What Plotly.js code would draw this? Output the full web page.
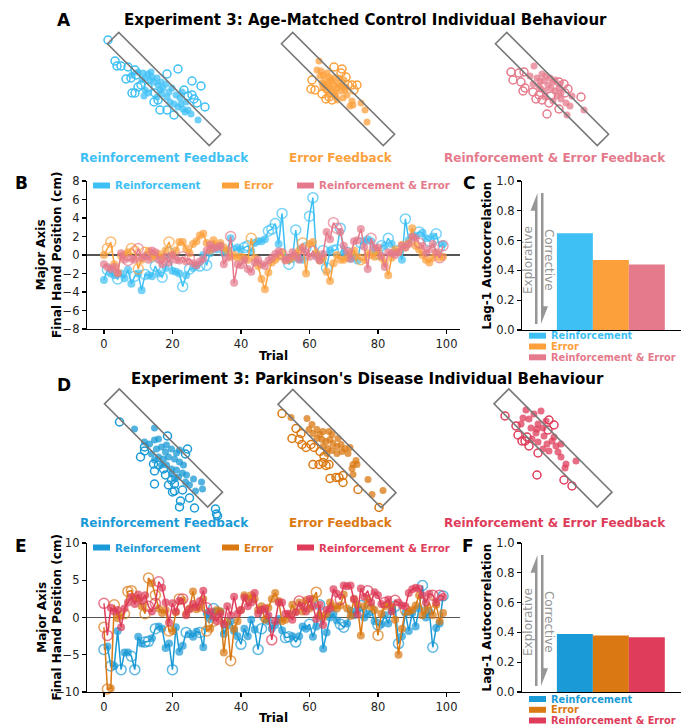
<!DOCTYPE html>
<html><head><meta charset="utf-8">
<script src="https://cdn.plot.ly/plotly-3.0.1.min.js"></script>
<style>html,body{margin:0;padding:0;background:#fff;} #chart{width:681px;height:725px;}</style>
</head><body><div id="chart"></div>
<script>
// ---------------- DATA ----------------
const trials = Array.from({length: 100}, (_, i) => i);
const seriesNames = ['Reinforcement', 'Error', 'Reinforcement & Error'];
const feedbackLabels = ['Reinforcement Feedback', 'Error Feedback', 'Reinforcement & Error Feedback'];

// Age-matched control: major-axis final hand position (cm)
const ctrlReinf = [-2.7,-1.6,-2.0,-2.2,-2.6,-2.0,-2.5,-1.6,-3.1,-2.3,
 -2.0,-3.8,-2.1,-2.2,-2.3,-1.2,-2.0,-2.4,-1.4,0.3,
 -1.7,-1.8,-2.0,-3.4,-2.2,-1.5,-1.4,-1.2,-1.2,0.0,
 -1.1,0.2,0.8,0.6,1.0,0.2,0.5,1.8,0.4,0.8,
 0.6,0.8,1.0,0.4,1.3,1.5,1.5,1.7,2.6,2.8,
 3.4,1.2,4.5,-0.3,-1.0,-0.4,2.7,-0.4,-0.5,0.8,
 4.2,6.2,0.0,-0.5,0.5,-1.4,0.5,0.5,0.6,2.9,
 0.2,0.3,-0.4,-0.2,-0.6,1.3,1.5,1.7,1.5,0.6,
 0.1,1.0,1.0,1.8,1.2,0.3,0.5,-0.5,3.9,1.6,
 2.0,2.1,2.5,2.4,1.8,1.5,2.0,2.3,0.9,1.2];
const ctrlError = [0.0,0.7,1.4,-1.0,-1.9,-0.1,0.0,0.3,0.7,0.4,
 -1.5,-0.5,0.3,0.4,-0.3,-0.1,0.1,-0.3,0.5,1.4,
 0.0,0.5,1.4,1.4,0.7,0.2,1.2,1.5,2.1,2.3,
 1.3,0.5,1.6,1.0,1.3,0.8,0.5,-0.2,0.0,-0.3,
 -0.2,-0.3,-0.5,1.8,-0.3,-1.2,-2.6,-3.7,-1.9,-0.8,
 -0.5,-0.2,0.3,-0.5,-0.5,-0.3,0.1,0.5,1.3,-2.0,
 1.2,1.4,0.2,-0.6,-0.3,-1.8,-2.8,-0.9,0.0,-0.5,
 -0.5,-0.3,0.2,0.5,-0.2,-0.5,-0.5,0.2,0.0,-0.2,
 0.5,-0.3,-0.8,-2.2,-0.3,0.6,0.3,1.1,0.8,1.3,
 2.9,1.0,0.6,0.0,-0.5,-0.8,-0.3,0.2,-0.3,-0.2];
const ctrlBoth = [-1.0,-1.3,-1.5,-1.3,-2.0,0.2,-0.5,-0.6,-0.4,-0.5,
 0.7,-0.3,-0.1,-0.5,0.5,0.3,-0.5,-1.0,-0.2,-0.8,
 0.0,-0.5,-0.6,-0.2,-0.7,-0.4,-0.9,-1.1,-0.7,-0.4,
 0.5,1.1,0.7,0.8,1.0,-1.0,-0.3,2.0,-3.0,-1.0,
 -1.1,-0.5,-1.5,-1.8,-0.8,-0.5,-1.0,-1.2,-0.6,-0.3,
 0.1,0.4,0.1,-0.6,-0.3,0.3,-0.1,-0.5,0.8,0.3,
 -0.2,0.4,-0.2,-0.6,0.1,2.5,1.7,3.5,2.9,2.5,
 1.0,0.4,-0.4,1.5,1.6,2.8,0.9,-1.5,1.8,0.8,
 0.8,-0.1,-1.3,0.3,0.2,0.0,0.3,1.0,0.8,1.2,
 2.0,1.8,1.3,1.0,0.2,0.6,1.2,0.3,-0.3,1.0];
// trials drawn as open circles
const ctrlReinfOpen = [1,4,9,12,15,17,19,23,25,28,30,38,41,42,48,49,50,52,54,56,59,60,61,64,65,67,68,69,71,75,80,81,83,86,88,92,95,97,98];
const ctrlErrorOpen = [1,2,8,9,10,12,19,43,58,75];
const ctrlBothOpen = [7,10,23,25,37,52,61,67,68,78,92,98,99];

// Parkinson's disease: major-axis final hand position (cm)
const pdReinf = [-4.3,-3.9,-6.5,-6.5,-1.8,-7.0,-4.7,-4.7,-5.2,-7.0,
 -2.6,-3.5,-3.3,-3.2,-2.8,-1.5,-1.2,-1.5,-4.1,-3.5,
 -7.0,-1.3,-4.6,-3.8,-2.0,-2.2,-2.6,-1.9,-2.0,-4.0,
 0.6,-0.2,1.2,0.8,0.8,-2.2,-1.1,-0.5,-1.8,-2.5,
 -3.6,-1.5,-2.5,-0.3,-1.6,-4.3,-1.5,0.1,-0.5,-1.5,
 -1.0,-0.2,-1.7,-2.7,-2.6,-2.5,-3.3,-2.5,-1.2,-1.5,
 -0.9,-2.6,-1.2,1.7,-4.2,-2.0,0.0,0.5,-0.4,-0.9,
 -1.3,-0.8,0.9,0.3,1.0,1.6,0.0,0.5,1.0,-0.5,
 -1.0,-0.9,0.3,-0.8,0.9,1.5,-3.5,-2.5,0.6,-1.8,
 0.6,-1.2,1.2,4.3,0.0,0.8,-4.0,-1.4,-0.8,2.9];
const pdError = [-1.3,-9.6,-9.5,1.7,-0.1,0.3,0.5,3.5,3.6,2.5,
 2.6,1.5,0.5,5.3,4.6,3.0,1.2,0.6,1.0,-1.8,
 -1.8,0.7,2.5,2.3,0.5,1.2,3.5,1.1,1.3,2.5,
 -1.8,-1.5,-0.5,1.0,0.8,-4.7,-0.6,-5.8,-1.5,-0.5,
 1.0,3.0,2.5,3.0,2.5,1.0,1.5,-0.3,1.3,2.5,
 3.3,2.2,-0.5,-0.3,0.3,1.7,0.8,2.0,0.8,2.3,
 1.2,2.5,3.4,0.3,0.0,0.5,2.0,1.5,1.2,1.6,
 3.1,1.2,0.2,2.5,1.7,-2.4,1.5,2.5,1.4,1.0,
 -2.4,0.5,1.5,1.8,1.5,-0.3,-5.0,-1.5,1.0,0.8,
 1.0,1.6,3.0,0.3,1.0,2.0,0.3,1.7,-0.5,0.6];
const pdBoth = [1.9,-2.4,1.3,0.8,1.0,-1.3,1.2,2.0,2.8,1.8,
 3.1,2.2,3.0,1.5,0.8,1.9,4.8,4.0,2.0,-0.7,
 1.9,0.8,2.2,2.5,0.3,1.1,1.8,1.4,2.2,3.6,
 1.3,0.8,0.1,-0.5,0.5,-0.9,1.5,0.3,2.8,0.5,
 1.0,2.7,1.5,2.0,3.3,0.5,1.0,1.2,0.3,-3.0,
 -0.5,2.0,2.0,0.5,0.5,-0.3,0.7,2.2,1.5,0.8,
 2.5,1.5,-0.2,1.7,-1.0,1.0,1.2,3.8,3.2,2.4,
 4.3,4.2,4.3,2.5,0.4,3.9,2.8,3.6,2.0,3.4,
 3.0,1.8,2.0,2.4,0.8,2.3,2.0,1.6,1.5,3.3,
 3.8,4.0,3.9,3.0,2.0,3.2,3.0,2.0,3.0,2.8];
const pdReinfOpen = [0,2,5,8,9,12,13,15,20,24,28,32,40,45,46,47,53,54,56,60,63,69,70,75,78,80,85,86,93,96,99];
const pdErrorOpen = [0,1,3,6,7,8,12,13,15,19,22,30,32,37,62,80,88,95];
const pdBothOpen = [0,1,13,15,16,23,30,49,57,69,77,82,85,96,98];

// Lag-1 autocorrelation
const ctrlLag1 = [0.65, 0.47, 0.44];
const pdLag1 = [0.39, 0.38, 0.367];

// Endpoint scatter (cm, relative to target centre). Open = outside target, filled = inside
const ctrlReinfOpenX = [-5.6,-4.9,-4.7,-4.3,-3.6,-2.9,-3.8,-3.3,-2.8,-2.6,-3.2,-2.9,-2.3,-1.0,-0.6,-0.4,0.3,1.0,1.4,0.3,2.8,3.7,2.0,2.4,2.8,3.3,4.1,3.0,-0.9,-1.6];
const ctrlReinfOpenY = [4.9,2.8,2.3,2.3,2.2,1.9,1.0,1.1,1.4,0.2,-0.4,-0.4,0.4,-1.3,-1.1,-2.1,-2.1,-2.6,2.0,1.5,0.8,0.3,-0.1,-0.7,-0.6,-1.4,-1.8,-1.0,-0.4,0.2];
const ctrlReinfFillX = [-3.2,-2.6,-2.1,-1.9,-1.6,-1.4,-1.2,-1.0,-0.7,-0.6,-0.3,-0.1,0.2,-1.9,-1.6,-2.0,-0.2,0.3,0.5,0.8,1.2,1.0,1.4,1.7,1.9,2.1,2.4,2.7,3.4,2.2,1.6,0.6,-2.2,-1.3,-0.4,-0.7,1.8];
const ctrlReinfFillY = [1.4,1.7,1.6,1.1,1.5,0.9,1.2,0.7,1.1,0.4,0.7,0.1,0.5,-0.1,-0.4,-0.7,-0.5,-0.8,-0.3,0.1,-0.6,-1.5,-1.8,-1.5,-2.0,-2.3,-2.1,-2.5,-3.1,-1.3,-0.9,-1.3,0.9,1.7,-0.1,-0.8,-0.3];

const ctrlErrorOpenX = [-2.6,-2.7,-2.3,-1.6,-1.2,-0.6,-0.9,-0.4,0.4,0.3,0.8,1.4,1.9,1.6,1.0];
const ctrlErrorOpenY = [0.9,0.0,-0.1,-0.5,-1.0,-1.1,-0.8,2.2,2.0,1.6,1.2,0.4,0.4,-0.1,0.4];
const ctrlErrorFillX = [-1.9,-2.1,-1.7,-1.5,-1.1,-0.9,-1.3,-1.6,-1.1,-0.6,-0.4,-0.8,-1.2,-0.6,-0.1,0.0,0.3,-0.3,-0.9,0.4,0.7,0.9,0.5,-0.1,1.4,1.2,1.5,2.3,2.7,2.9,-1.8,-1.5,-0.5,0.1,0.6,-1.0,-0.3,0.2,-0.7,-1.4,-0.2,0.8];
const ctrlErrorFillY = [2.8,1.9,1.8,1.4,1.6,1.2,0.9,0.6,0.5,0.8,0.4,0.1,-0.1,-0.2,0.1,0.6,-0.2,-0.6,-0.6,0.3,-0.1,-0.6,-0.9,-1.1,-1.2,-1.7,-1.6,-1.4,-2.1,-3.3,1.3,0.2,1.1,1.1,0.9,0.3,-0.3,0.3,0.9,0.4,-0.8,0.2];

const ctrlBothOpenX = [-4.1,-3.3,-2.8,-3.9,-3.1,-2.7,-2.9,-1.9,-1.3,-1.6,-1.0,-0.3,-0.1,0.7,1.2,1.6,1.3,2.9,-0.5,0.7];
const ctrlBothOpenY = [1.7,1.6,1.7,0.9,0.7,0.1,-0.2,-0.3,-0.6,-1.0,-1.1,-1.4,-0.7,0.7,0.5,0.0,-0.4,-0.8,-2.5,-2.0];
const ctrlBothFillX = [-1.8,-2.2,-1.5,-1.0,-0.6,-0.8,-0.4,0.1,-0.1,-0.7,0.3,0.7,0.5,0.9,0.1,-0.7,-1.3,-1.9,1.4,1.8,3.2,1.5,-1.1,0.3,0.9,2.0,-1.2,-0.2,0.8];
const ctrlBothFillY = [2.3,1.3,1.1,1.5,1.3,0.8,0.4,0.7,0.1,-0.2,-0.2,0.1,-0.7,-1.0,-1.2,-0.8,0.3,0.5,-1.4,-1.7,-2.1,-2.6,0.0,0.9,-0.4,-0.7,0.8,1.1,0.5];

const pdReinfOpenX = [-4.4,-2.3,-1.9,-1.9,-1.0,-0.9,-0.5,0.0,0.2,0.8,1.1,1.1,0.9,1.9,1.7,1.6,2.6,3.1,5.2,5.4,5.3,0.4,2.4,2.2,-0.9,0.5];
const pdReinfOpenY = [2.6,-0.9,-0.3,0.1,-1.6,-2.3,-1.7,-2.1,-2.7,-3.2,-3.6,-4.3,-4.4,-4.2,-5.3,-5.9,-5.0,-6.0,-6.1,-6.8,-6.6,1.2,-0.1,-0.6,-3.6,-3.7];
const pdReinfFillX = [-2.9,-0.9,-1.9,-1.4,-0.9,-0.5,-0.7,-0.2,0.3,0.8,1.6,-1.2,-0.5,0.0,0.5,1.1,1.6,-0.2,0.3,0.8,1.3,1.9,2.3,1.5,0.8,2.2,2.6,3.2,3.8,3.9,3.0,0.2,1.3,-0.9,2.0,1.1];
const pdReinfFillY = [1.9,2.0,0.6,0.4,0.8,0.9,-0.1,0.1,0.3,-0.1,-0.2,-0.6,-0.9,-1.1,-0.9,-1.1,-1.4,-1.7,-1.7,-2.1,-2.2,-2.5,-2.7,-2.9,-2.6,-3.4,-3.7,-4.3,-3.4,-4.1,-3.1,-0.4,-0.5,-1.2,-1.7,-3.1];

const pdErrorOpenX = [-5.5,-4.1,-3.6,-4.5,-3.8,-3.5,-3.1,-2.6,-2.3,-1.7,-1.3,-1.4,-2.4,-1.8,-1.1,-0.8,-0.7,-0.1,0.2,0.6,0.6,2.1,4.2];
const pdErrorOpenY = [3.5,2.0,1.5,1.0,0.9,0.4,0.1,0.4,0.1,-0.3,-0.8,-1.4,-1.6,-1.6,-1.7,-1.6,-3.0,-2.9,-2.9,-3.4,-2.7,-4.1,-5.9];
const pdErrorFillX = [-4.6,-3.0,-2.5,-2.8,-2.4,-2.0,-1.7,-1.4,-0.8,-0.5,-2.0,-1.5,-1.1,-0.7,-0.4,0.0,0.4,0.8,1.3,-1.4,-0.9,-0.5,0.0,0.5,-1.0,1.1,1.9,1.6,2.0,1.5,1.6,3.1,3.5,4.6,0.1];
const pdErrorFillY = [3.1,3.0,2.4,1.9,1.5,1.9,1.4,1.7,1.7,1.4,1.0,0.9,0.7,0.9,0.5,0.2,0.4,0.0,0.1,0.2,0.0,-0.2,-0.5,-0.3,-0.5,-0.5,-1.2,-1.6,-1.6,-2.0,-2.6,-3.1,-4.6,-4.2,1.0];

const pdBothOpenX = [-4.8,-3.7,-3.5,-2.8,-2.4,-2.6,-1.5,-0.4,0.1,-0.5,-1.6,1.1,1.9,-3.1];
const pdBothOpenY = [3.2,2.2,1.3,0.7,0.2,1.1,-0.5,2.8,2.3,1.8,-2.7,-3.2,-3.8,0.7];
const pdBothFillX = [-2.7,-3.0,-3.2,-2.4,-1.9,-1.5,-1.0,-1.7,-2.1,-1.5,-0.9,-0.6,-0.1,0.3,-0.4,0.5,0.8,1.3,2.3,1.2,-1.0,-1.6,-0.7,-2.2,0.1,0.8,-1.2];
const pdBothFillY = [3.8,3.0,2.4,2.9,3.4,2.4,2.0,1.5,0.9,0.6,1.2,0.4,0.7,0.2,-0.3,-0.4,-0.9,-1.6,-1.3,-2.0,-0.1,1.9,2.7,2.0,1.1,0.4,3.7];

// ---------------- STYLE ----------------
const FONT = 'DejaVu Sans, Liberation Sans, sans-serif';
const ctrlColors = ['#3EC0F5', '#FCA03C', '#E57A8C'];
const pdColors = ['#1A9AD6', '#DA7812', '#DE3C5A'];
const W = 681, H = 725;
const px = p => p / W;
const py = p => 1 - p / H;
const domX = (a, b) => [a / W, b / W];
const domY = (a, b) => [1 - b / H, 1 - a / H];

const traces = [];
const shapes = [];
const annotations = [];

function baseAxis(extra) {
  return Object.assign({
    showline: true, linecolor: '#000', linewidth: 1.2,
    ticks: 'outside', ticklen: 4, tickwidth: 1.2, tickcolor: '#000',
    showgrid: false, zeroline: false, fixedrange: true,
    tickfont: {family: FONT, size: 11.5, color: '#222'}
  }, extra);
}

function tsTrace(y, openIdx, color, xa, ya) {
  const open = new Set(openIdx);
  return {
    type: 'scatter', mode: 'lines+markers', x: trials, y: y, xaxis: xa, yaxis: ya,
    cliponaxis: false, showlegend: false, hoverinfo: 'skip',
    line: {color: color, width: 1.5},
    marker: {
      color: color,
      symbol: y.map((v, i) => open.has(i) ? 'circle-open' : 'circle'),
      size: y.map((v, i) => open.has(i) ? 10 : 6.5),
      line: {color: color, width: 1.5}
    }
  };
}

function addLegendRow(x, yc, color, text, size) {
  shapes.push({type: 'rect', xref: 'paper', yref: 'paper', x0: px(x), x1: px(x + 17), y0: py(yc + 3), y1: py(yc - 3),
    fillcolor: color, line: {width: 0}});
  annotations.push({xref: 'paper', yref: 'paper', x: px(x + 21), y: py(yc), xanchor: 'left', yanchor: 'middle',
    text: '<b>' + text + '</b>', showarrow: false, borderpad: 0, font: {family: FONT, size: size, color: color}});
}

function addText(x, y, text, size, color, opts) {
  annotations.push(Object.assign({xref: 'paper', yref: 'paper', x: px(x), y: py(y), xanchor: 'center', yanchor: 'middle',
    text: text, showarrow: false, font: {family: FONT, size: size, color: color}}, opts || {}));
}

const layout = {
  width: W, height: H, margin: {l: 0, r: 0, t: 0, b: 0},
  paper_bgcolor: '#fff', plot_bgcolor: 'rgba(0,0,0,0)', showlegend: false,
  font: {family: FONT}
};

// ---------- time-series panels (B and E) ----------
function timePanel(ax, dataList, openList, colors, yTop, yBot, yRange, yTicks) {
  const xa = 'x' + (ax === 1 ? '' : ax), ya = 'y' + (ax === 1 ? '' : ax);
  layout['xaxis' + (ax === 1 ? '' : ax)] = baseAxis({
    domain: domX(87, 460), range: [-4.95, 103.95], anchor: ya, tickvals: [0, 20, 40, 60, 80, 100],
    title: {text: '<b>Trial</b>', font: {family: FONT, size: 12, color: '#000'}, standoff: 1}
  });
  layout['yaxis' + (ax === 1 ? '' : ax)] = baseAxis({
    domain: domY(yTop, yBot), range: yRange, anchor: xa, tickvals: yTicks,
    zeroline: true, zerolinecolor: '#555', zerolinewidth: 1.2
  });
  dataList.forEach((d, k) => traces.push(tsTrace(d, openList[k], colors[k], xa, ya)));
  const yc = yTop + 4.5;
  addLegendRow(93, yc, colors[0], seriesNames[0], 10.3);
  addLegendRow(222, yc, colors[1], seriesNames[1], 10.3);
  addLegendRow(297, yc, colors[2], seriesNames[2], 10.3);
  addText(49, (yTop + yBot) / 2, '<b>Major Axis</b><br><b>Final Hand Position (cm)</b>', 12, '#000', {textangle: -90});
}

// ---------- bar panels (C and F) ----------
function barPanel(ax, values, colors, yTop, yBot, legendRows) {
  const xa = 'x' + ax, ya = 'y' + ax;
  layout['xaxis' + ax] = baseAxis({domain: domX(522, 681), range: [-1.47, 2.95], anchor: ya,
    showticklabels: false, ticks: ''});
  layout['yaxis' + ax] = baseAxis({domain: domY(yTop, yBot), range: [0, 1], anchor: xa,
    tickvals: [0, 0.2, 0.4, 0.6, 0.8, 1.0], tickformat: '.1f'});
  traces.push({type: 'bar', x: [0, 1, 2], y: values, width: 1, xaxis: xa, yaxis: ya,
    marker: {color: colors, line: {width: 0}}, showlegend: false, hoverinfo: 'skip'});
  // explorative / corrective arrows
  const g = '#969696';
  const X = v => px(v);
  shapes.push({type: 'path', xref: 'paper', yref: ya, fillcolor: g, line: {width: 0},
    path: `M ${X(537.5)} 0.04 L ${X(537.5)} 0.92 L ${X(530.5)} 0.80 L ${X(535)} 0.80 L ${X(535)} 0.04 Z`});
  shapes.push({type: 'path', xref: 'paper', yref: ya, fillcolor: g, line: {width: 0},
    path: `M ${X(541)} 0.92 L ${X(541)} 0.04 L ${X(548)} 0.16 L ${X(543.5)} 0.16 L ${X(543.5)} 0.92 Z`});
  const yMid = yBot - 0.47 * (yBot - yTop);
  addText(528, yMid, 'Explorative', 12, g, {textangle: -90});
  addText(549, yMid, 'Corrective', 12, g, {textangle: 90});
  addText(486, (yTop + yBot) / 2, '<b>Lag-1 Autocorrelation</b>', 12, '#000', {textangle: -90});
  legendRows.forEach((yc, k) => addLegendRow(529, yc, colors[k], seriesNames[k], 9.8));
}

// ---------- endpoint scatter panels (A and D) ----------
function scatterPanel(ax, cx, cy, openX, openY, fillX, fillY, color, halfL, halfW) {
  const xa = 'x' + ax, ya = 'y' + ax;
  layout['xaxis' + ax] = {domain: domX(cx - 75, cx + 75), range: [-7.5, 7.5], visible: false, anchor: ya, fixedrange: true};
  layout['yaxis' + ax] = {domain: domY(cy - 80, cy + 80), range: [-8, 8], visible: false, anchor: xa, fixedrange: true};
  // target rectangle along the major axis (45 deg)
  const u = [Math.SQRT1_2, -Math.SQRT1_2], v = [Math.SQRT1_2, Math.SQRT1_2];
  const c = (a, b) => [a * halfL * u[0] + b * halfW * v[0], a * halfL * u[1] + b * halfW * v[1]];
  const pts = [c(-1, -1), c(-1, 1), c(1, 1), c(1, -1)];
  shapes.push({type: 'path', xref: xa, yref: ya, line: {color: '#777', width: 1.6},
    path: 'M ' + pts.map(p => p[0].toFixed(3) + ' ' + p[1].toFixed(3)).join(' L ') + ' Z'});
  traces.push({type: 'scatter', mode: 'markers', x: fillX, y: fillY, xaxis: xa, yaxis: ya, cliponaxis: false,
    marker: {color: color, size: 7, opacity: 0.75, line: {width: 0}}, showlegend: false, hoverinfo: 'skip'});
  traces.push({type: 'scatter', mode: 'markers', x: openX, y: openY, xaxis: xa, yaxis: ya, cliponaxis: false,
    marker: {color: color, size: 8, symbol: 'circle-open', line: {width: 1.5, color: color}}, showlegend: false, hoverinfo: 'skip'});
}

// Build
scatterPanel(5, 164, 89, ctrlReinfOpenX, ctrlReinfOpenY, ctrlReinfFillX, ctrlReinfFillY, ctrlColors[0], 7.2, 0.8);
scatterPanel(6, 338, 89, ctrlErrorOpenX, ctrlErrorOpenY, ctrlErrorFillX, ctrlErrorFillY, ctrlColors[1], 7.2, 0.8);
scatterPanel(7, 552, 89, ctrlBothOpenX, ctrlBothOpenY, ctrlBothFillX, ctrlBothFillY, ctrlColors[2], 7.2, 0.8);
scatterPanel(8, 163.5, 448, pdReinfOpenX, pdReinfOpenY, pdReinfFillX, pdReinfFillY, pdColors[0], 7.3, 1.05);
scatterPanel(9, 337, 448.5, pdErrorOpenX, pdErrorOpenY, pdErrorFillX, pdErrorFillY, pdColors[1], 7.3, 1.05);
scatterPanel(10, 553, 448, pdBothOpenX, pdBothOpenY, pdBothFillX, pdBothFillY, pdColors[2], 7.3, 1.05);

timePanel(1, [ctrlReinf, ctrlError, ctrlBoth], [ctrlReinfOpen, ctrlErrorOpen, ctrlBothOpen], ctrlColors, 181, 329, [-8, 8], [-8, -6, -4, -2, 0, 2, 4, 6, 8]);
timePanel(3, [pdReinf, pdError, pdBoth], [pdReinfOpen, pdErrorOpen, pdBothOpen], pdColors, 543, 692, [-10, 10], [-10, -5, 0, 5, 10]);
barPanel(2, ctrlLag1, ctrlColors, 181, 330, [335.7, 346.5, 357.3]);
barPanel(4, pdLag1, pdColors, 543, 692, [699, 709.8, 720.5]);

// Titles, feedback labels and panel letters
addText(366, 20, '<b>Experiment 3: Age-Matched Control Individual Behaviour</b>', 15, '#000');
addText(367, 379, "<b>Experiment 3: Parkinson's Disease Individual Behaviour</b>", 15, '#000');
[164.6, 341, 554.5].forEach((x, k) => addText(x, 158, '<b>' + feedbackLabels[k] + '</b>', 12, ctrlColors[k]));
[164.6, 341, 554.5].forEach((x, k) => addText(x, 523, '<b>' + feedbackLabels[k] + '</b>', 12, pdColors[k]));
[['A', 64, 20], ['B', 21, 183], ['C', 469, 183], ['D', 64, 385], ['E', 21, 546], ['F', 468, 546]]
  .forEach(l => addText(l[1], l[2], '<b>' + l[0] + '</b>', 17, '#000'));

layout.shapes = shapes;
layout.annotations = annotations;
Plotly.newPlot('chart', traces, layout, {staticPlot: true, displayModeBar: false});
</script>
</body></html>
